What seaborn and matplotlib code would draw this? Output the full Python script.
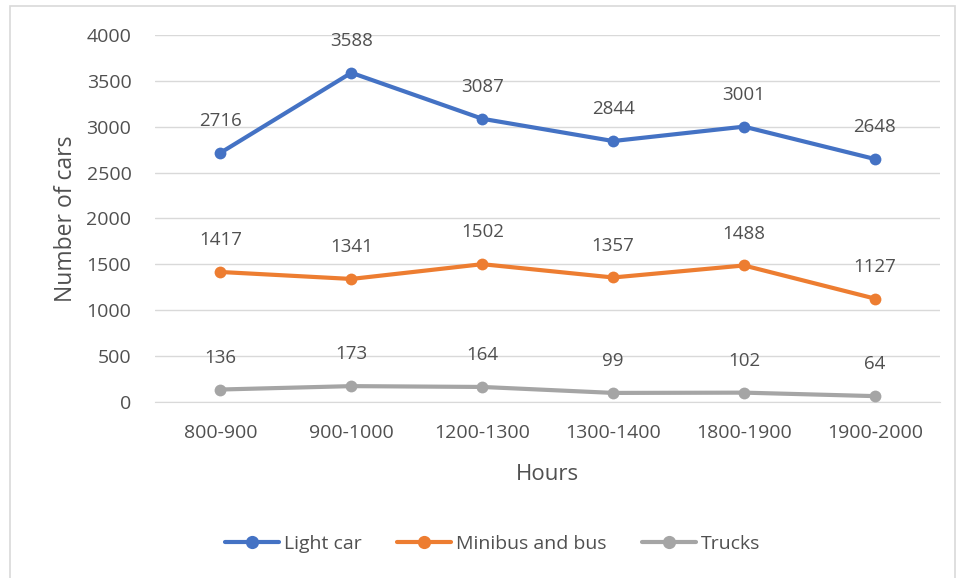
import pandas as pd
import matplotlib.pyplot as plt
import seaborn as sns
from matplotlib.patches import Rectangle

hours = ['800-900', '900-1000', '1200-1300', '1300-1400', '1800-1900', '1900-2000']
light_car = [2716, 3588, 3087, 2844, 3001, 2648]
minibus_bus = [1417, 1341, 1502, 1357, 1488, 1127]
trucks = [136, 173, 164, 99, 102, 64]

series = {'Light car': light_car, 'Minibus and bus': minibus_bus, 'Trucks': trucks}
colors = {'Light car': '#4472C4', 'Minibus and bus': '#ED7D31', 'Trucks': '#A5A5A5'}

rows = []
for name, vals in series.items():
    for i, (h, v) in enumerate(zip(hours, vals)):
        rows.append({'Hours': h, 'pos': i, 'value': v, 'series': name})
df = pd.DataFrame(rows)

sns.set_style('white')
plt.rcParams['font.family'] = ['Open Sans', 'DejaVu Sans']
text_color = '#505050'

fig = plt.figure(figsize=(9.6, 5.78), dpi=100)
ax = fig.add_axes([0.1615, 0.3045, 0.818, 0.635])

sns.lineplot(data=df, x='pos', y='value', hue='series', palette=colors,
             marker='o', markersize=8.5, markeredgewidth=0, linewidth=3,
             ax=ax, legend=False, zorder=3)

# Data labels
for name, vals in series.items():
    for i, v in enumerate(vals):
        ax.annotate(str(v), (i, v), xytext=(0, 23), textcoords='offset points',
                    ha='center', va='center', fontsize=13.5, color=text_color)

ax.set_xlim(-0.5, len(hours) - 0.5)
ax.set_ylim(0, 4000)
ax.set_yticks(range(0, 4001, 500))
ax.set_xticks(range(len(hours)))
ax.set_xticklabels(hours)
ax.tick_params(axis='both', length=0, labelsize=14, colors=text_color)
ax.tick_params(axis='x', pad=16)
ax.tick_params(axis='y', pad=17)
ax.yaxis.grid(True, color='#D9D9D9', linewidth=1)
ax.set_axisbelow(True)
for side in ['top', 'right', 'left']:
    ax.spines[side].set_visible(False)
ax.spines['bottom'].set_color('#D9D9D9')

ax.set_xlabel('Hours', fontsize=16, color=text_color, labelpad=16)
ax.set_ylabel('Number of cars', fontsize=16.5, color=text_color, labelpad=6)

# Legend
handles = [plt.Line2D([], [], color=colors[n], marker='o', markersize=9.5,
                      linewidth=3, markeredgewidth=0) for n in series]
fig.legend(handles, list(series.keys()), loc='center', bbox_to_anchor=(0.513, 0.059),
           ncol=3, frameon=False, fontsize=14, labelcolor=text_color,
           handlelength=2.8, handletextpad=0.25, columnspacing=1.8)

# Chart border
fig.patches.append(Rectangle((0.01, -0.05), 0.985, 1.04, transform=fig.transFigure,
                             fill=False, edgecolor='#D9D9D9', linewidth=1.2))

fig.savefig('out.png', dpi=100)
